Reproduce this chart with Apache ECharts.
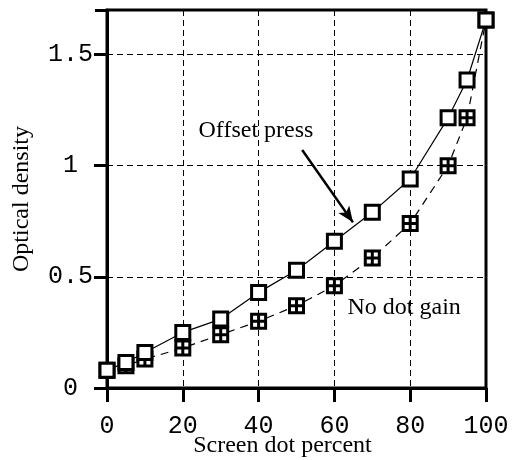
<!DOCTYPE html>
<html>
<head>
<meta charset="utf-8">
<script src="https://cdn.jsdelivr.net/npm/echarts@6/dist/echarts.min.js"></script>
<style>
  html, body { margin: 0; padding: 0; background: #fff; }
  #chart { width: 517px; height: 460px; }
</style>
</head>
<body>
<div id="chart"></div>
<script>
// screen dot percent vs optical density
var dotPercent = [0, 5, 10, 20, 30, 40, 50, 60, 70, 80, 90, 95, 100];
var offsetPress = [0.08, 0.115, 0.16, 0.25, 0.31, 0.43, 0.53, 0.66, 0.79, 0.94, 1.215, 1.385, 1.655];
var noDotGain = [0.08, 0.10, 0.13, 0.18, 0.24, 0.30, 0.37, 0.46, 0.585, 0.74, 1.0, 1.215, 1.655];
var xTicks = [0, 20, 40, 60, 80, 100];
var yTicks = [0, 0.5, 1, 1.5];

var pairs = function (ys) {
    return dotPercent.map(function (x, i) { return [x, ys[i]]; });
};

var monoFont = '"Liberation Mono", "DejaVu Sans Mono", monospace';
var serifFont = '"Liberation Serif", "DejaVu Serif", serif';
var gridDash = { color: '#000', width: 1, type: [6, 4] };
var hatched = 'path://M0,0H12V12H0Z M6,0V12 M0,6H12';
var tickStyle = { show: true, inside: false, length: 12, lineStyle: { color: '#000', width: 3, type: 'solid' } };

var chart = echarts.init(document.getElementById('chart'));
chart.setOption({
    animation: false,
    backgroundColor: '#fff',
    grid: {
        left: 107, right: 31, top: 10, bottom: 72,
        outerBoundsMode: 'none', containLabel: false,
        show: true, borderColor: '#000', borderWidth: 3
    },
    xAxis: {
        type: 'value', min: 0, max: 100, interval: 20,
        name: 'Screen dot percent', nameLocation: 'middle', nameGap: 46, nameMoveOverlap: false,
        nameTextStyle: { fontFamily: serifFont, fontSize: 24, color: '#000', padding: [0, 28, 0, 0] },
        axisLine: { show: true, onZero: false, lineStyle: { color: '#000', width: 3 } },
        axisTick: tickStyle,
        axisLabel: { fontFamily: monoFont, fontSize: 25, color: '#000', margin: 26 },
        splitLine: { lineStyle: gridDash }
    },
    yAxis: {
        type: 'value', min: 0, max: 1.7, interval: 0.5,
        name: 'Optical density', nameLocation: 'middle', nameGap: 73, nameMoveOverlap: false,
        nameTextStyle: { fontFamily: serifFont, fontSize: 24, color: '#000' },
        axisLine: { show: true, onZero: false, lineStyle: { color: '#000', width: 3 } },
        axisTick: tickStyle,
        axisLabel: {
            fontFamily: monoFont, fontSize: 25, color: '#000', margin: 14,
            formatter: function (v) {
                if (yTicks.indexOf(v) < 0) return '';
                return Number.isInteger(v) ? v + ' ' : String(v);
            }
        },
        splitLine: { lineStyle: gridDash }
    },
    series: [
        {
            name: 'No dot gain', type: 'line', data: pairs(noDotGain),
            symbol: hatched, symbolSize: 14, z: 2, clip: false,
            lineStyle: { color: '#000', width: 1.2, type: [8, 6] },
            itemStyle: { color: '#fff', borderColor: '#000', borderWidth: 3 },
            markPoint: {
                symbol: 'circle', symbolSize: 1, itemStyle: { color: 'rgba(0,0,0,0)' },
                label: { show: true, position: 'inside', fontFamily: serifFont, fontSize: 24, color: '#000', formatter: '{b}' },
                data: [{ name: 'No dot gain', coord: [78.4, 0.36] }]
            }
        },
        {
            name: 'Offset press', type: 'line', data: pairs(offsetPress),
            symbol: 'rect', symbolSize: 14, z: 3,
            lineStyle: { color: '#000', width: 1.2 },
            itemStyle: { color: '#fff', borderColor: '#000', borderWidth: 3 },
            markPoint: {
                symbol: 'circle', symbolSize: 1, itemStyle: { color: 'rgba(0,0,0,0)' },
                label: { show: true, position: 'inside', fontFamily: serifFont, fontSize: 24, color: '#000', formatter: '{b}' },
                data: [{ name: 'Offset press', coord: [39.3, 1.155] }]
            },
            markLine: {
                silent: true, symbol: ['none', 'arrow'], symbolSize: [10, 16],
                label: { show: false },
                lineStyle: { color: '#000', width: 2.5, type: 'solid' },
                data: [[{ coord: [51.5, 1.07] }, { coord: [64.9, 0.745] }]]
            }
        }
    ]
});

// outward tick marks, placed through the axes' own scale
var tickSegs = [];
yTicks.forEach(function (v) {
    var p = chart.convertToPixel({ xAxisIndex: 0, yAxisIndex: 0 }, [0, v]);
    tickSegs.push([{ x: p[0] - 13, y: p[1] }, { x: p[0], y: p[1] }]);
});
xTicks.forEach(function (v) {
    var p = chart.convertToPixel({ xAxisIndex: 0, yAxisIndex: 0 }, [v, 0]);
    tickSegs.push([{ x: p[0], y: p[1] }, { x: p[0], y: p[1] + 14 }]);
});
chart.setOption({
    series: [{
        markLine: {
            silent: true, symbol: ['none', 'none'], label: { show: false },
            lineStyle: { color: '#000', width: 3, type: 'solid' },
            data: tickSegs
        }
    }]
});
</script>
</body>
</html>
